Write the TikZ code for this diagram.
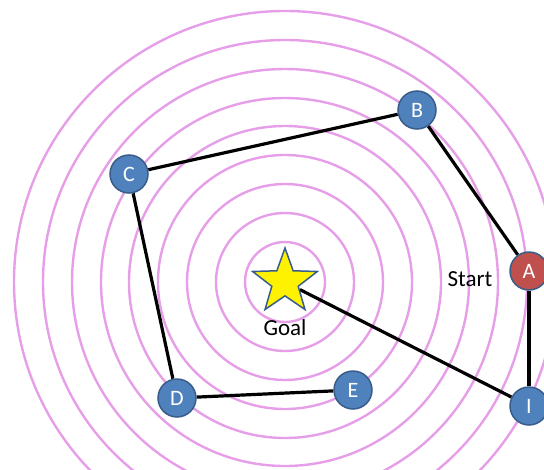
\documentclass[tikz,border=0pt]{standalone}
\usepackage{fontspec}
\setmainfont{Carlito}
\usetikzlibrary{shapes.geometric,backgrounds}
\definecolor{ring}{RGB}{230,158,232}
\definecolor{nodeblue}{RGB}{79,129,189}
\definecolor{nodered}{RGB}{192,80,77}
\definecolor{nodeedge}{RGB}{56,93,138}
\begin{document}
\begin{tikzpicture}[x=1pt,y=-1pt,
  waypoint/.style={circle,draw=nodeedge,line width=1.5pt,fill=nodeblue,minimum size=38pt,inner sep=0pt,text=white,font=\fontsize{22}{24}\selectfont},
  startpoint/.style={waypoint,fill=nodered},
  goalstar/.style={star,star points=5,star point ratio=2.45,minimum size=68pt,inner sep=0pt,fill=yellow,draw=nodeedge,line width=1.5pt},
  ringline/.style={draw=ring,line width=2.4pt},
  pathline/.style={draw=black,line width=3.2pt},
  label/.style={font=\fontsize{23}{26}\selectfont,text=black}]
\useasboundingbox (0,0) rectangle (544,469);
\clip (0,0) rectangle (544,469);
\node[goalstar] (goal) at (285,282) {};
\node[startpoint] (A) at (529,271) {A};
\node[waypoint] (B) at (417,110) {B};
\node[waypoint] (C) at (129,174) {C};
\node[waypoint] (D) at (177,398) {D};
\node[waypoint] (E) at (353,390) {E};
\node[waypoint] (I) at (529,406) {I};
\node[label] (start) at (470,279) {Start};
\node[label] (goaltext) at (285,328) {Goal};
\begin{pgfonlayer}{background}
  \foreach \r in {40,69,98,127,156,184,213,242,271}
    \draw[ringline] (285,282) circle (\r);
  \draw[pathline] (A) -- (B);
  \draw[pathline] (B) -- (C);
  \draw[pathline] (C) -- (D);
  \draw[pathline] (D) -- (E);
  \draw[pathline] (A) -- (I);
  \draw[pathline] (I) -- (goal);
\end{pgfonlayer}
\end{tikzpicture}
\end{document}
